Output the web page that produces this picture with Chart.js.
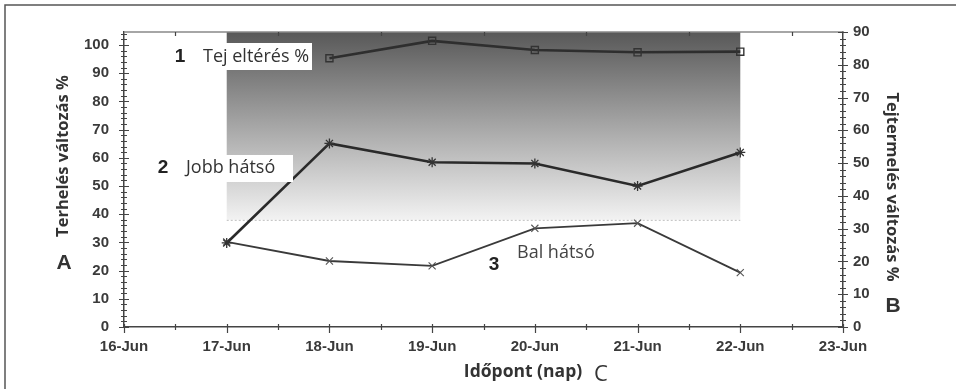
<!DOCTYPE html>
<html>
<head>
<meta charset="utf-8">
<script src="https://cdn.jsdelivr.net/npm/chart.js@4.4.0/dist/chart.umd.min.js"></script>
<style>
  body { margin: 0; background: #fff; }
  #wrap { position: relative; width: 956px; height: 389px; }
</style>
</head>
<body>
<div id="wrap"><canvas id="myChart"></canvas></div>
<script>
// tengely feliratok (napok)
var napok = ['16-Jun', '17-Jun', '18-Jun', '19-Jun', '20-Jun', '21-Jun', '22-Jun', '23-Jun'];

// 1 - Tej eltérés % (jobb tengely)
var tejNapok = ['18-Jun', '19-Jun', '20-Jun', '21-Jun', '22-Jun'];
var tejErtekek = [82.0, 87.3, 84.5, 83.8, 84.0];

// 2 - Jobb hátsó (bal tengely)
var jobbNapok = ['17-Jun', '18-Jun', '19-Jun', '20-Jun', '21-Jun', '22-Jun'];
var jobbErtekek = [29.8, 65.1, 58.4, 58.0, 50.0, 61.9];

// 3 - Bal hátsó (bal tengely)
var balNapok = ['17-Jun', '18-Jun', '19-Jun', '20-Jun', '21-Jun', '22-Jun'];
var balErtekek = [30.2, 23.4, 21.7, 35.0, 36.8, 19.3];

// háttér sáv
var savKezdet = '17-Jun';
var savVege = '22-Jun';
var savAlja = 38;

function pontok(nap, ertek) {
  var res = [];
  for (var i = 0; i < nap.length; i++) {
    res.push({ x: napok.indexOf(nap[i]), y: ertek[i] });
  }
  return res;
}

function lepesek(min, max, step) {
  var t = [];
  for (var v = min; v <= max + 1e-9; v += step) t.push({ value: Math.round(v * 100) / 100 });
  return t;
}

var tickFont = { family: 'Liberation Sans', size: 15, weight: 'bold' };

var diszito = {
  id: 'diszito',
  beforeDraw: function (chart) {
    var c = chart.ctx;
    c.save();
    c.fillStyle = '#fff';
    c.fillRect(0, 0, chart.width, chart.height);
    c.strokeStyle = '#555';
    c.lineWidth = 1.5;
    c.beginPath();
    c.moveTo(5, chart.height);
    c.lineTo(5, 5);
    c.lineTo(chart.width, 5);
    c.stroke();
    c.restore();
  },
  beforeDatasetsDraw: function (chart) {
    var c = chart.ctx, a = chart.chartArea;
    var x = chart.scales.x, yL = chart.scales.y, yR = chart.scales.y2;
    var x1 = x.getPixelForValue(napok.indexOf(savKezdet));
    var x2 = x.getPixelForValue(napok.indexOf(savVege));
    var yb = yL.getPixelForValue(savAlja);
    c.save();
    var g = c.createLinearGradient(0, a.top, 0, yb);
    g.addColorStop(0, '#585858');
    g.addColorStop(0.5, '#a6a6a6');
    g.addColorStop(1, '#f2f2f2');
    c.fillStyle = g;
    c.fillRect(x1, a.top, x2 - x1, yb - a.top);
    c.strokeStyle = '#bdbdbd';
    c.lineWidth = 1;
    c.setLineDash([2, 2]);
    c.beginPath();
    c.moveTo(x1, yb + 0.5);
    c.lineTo(x2, yb + 0.5);
    c.stroke();
    c.setLineDash([]);
    // felső keret
    c.strokeStyle = '#888';
    c.lineWidth = 1.5;
    c.beginPath();
    c.moveTo(a.left, a.top);
    c.lineTo(a.right, a.top);
    c.stroke();
    // tengely osztások (átlógó)
    c.strokeStyle = '#444';
    c.lineWidth = 1.2;
    c.beginPath();
    yL.ticks.forEach(function (t) {
      var p = Math.round(yL.getPixelForValue(t.value)) + 0.5;
      var h = t.value % 10 === 0 ? 5 : 3;
      c.moveTo(a.left - h, p); c.lineTo(a.left + h, p);
    });
    yR.ticks.forEach(function (t) {
      var p = Math.round(yR.getPixelForValue(t.value)) + 0.5;
      var h = t.value % 10 === 0 ? 5 : 3;
      c.moveTo(a.right - h, p); c.lineTo(a.right + h, p);
    });
    x.ticks.forEach(function (t) {
      var p = Math.round(x.getPixelForValue(t.value)) + 0.5;
      var major = t.value % 1 === 0;
      c.moveTo(p, a.bottom - 3); c.lineTo(p, a.bottom + (major ? 6 : 3));
      if (!major) { c.moveTo(p, a.top); c.lineTo(p, a.top + 4); }
    });
    c.stroke();
    c.restore();
  },
  afterDatasetsDraw: function (chart) {
    var c = chart.ctx;
    c.save();
    c.textBaseline = 'middle';
    function doboz(x, y, w, h) {
      c.fillStyle = '#fff';
      c.fillRect(x, y, w, h);
    }
    doboz(201, 43, 111, 27);
    doboz(182, 155, 111, 27);
    c.fillStyle = '#222';
    c.font = 'bold 19px "Liberation Sans"';
    c.textAlign = 'center';
    c.fillText('1', 180, 57);
    c.fillText('2', 163, 168);
    c.fillText('3', 494, 265);
    c.fillStyle = '#333';
    c.font = '18px "Open Sans"';
    c.textAlign = 'left';
    c.fillText('Tej eltérés %', 203, 57);
    c.fillText('Jobb hátsó', 186, 168);
    c.fillStyle = '#444';
    c.fillText('Bal hátsó', 517, 253);
    // tengelycímek
    c.fillStyle = '#333';
    c.font = 'bold 17.5px "Open Sans"';
    c.textAlign = 'center';
    c.fillText('Időpont (nap)', 523, 372);
    c.font = '22px "Open Sans"';
    c.fillText('C', 601, 375);
    c.save();
    c.translate(63, 156);
    c.rotate(-Math.PI / 2);
    c.font = 'bold 16.5px "Open Sans"';
    c.fillText('Terhelés változás %', 0, 0);
    c.restore();
    c.save();
    c.translate(892, 187);
    c.rotate(Math.PI / 2);
    c.font = 'bold 16.5px "Open Sans"';
    c.fillText('Tejtermelés változás %', 0, 0);
    c.restore();
    c.font = 'bold 21px "Liberation Sans"';
    c.fillText('A', 64, 263);
    c.fillText('B', 893, 306);
    c.restore();
  }
};

new Chart(document.getElementById('myChart'), {
  type: 'line',
  data: {
    datasets: [
      {
        label: 'Tej eltérés %',
        data: pontok(tejNapok, tejErtekek),
        yAxisID: 'y2',
        borderColor: '#2e2e2e',
        borderWidth: 2.6,
        pointStyle: 'rect',
        pointRadius: 5,
        pointBorderWidth: 1.4,
        pointBorderColor: '#333',
        pointBackgroundColor: 'rgba(0,0,0,0)'
      },
      {
        label: 'Jobb hátsó',
        data: pontok(jobbNapok, jobbErtekek),
        yAxisID: 'y',
        borderColor: '#2a2a2a',
        borderWidth: 2.6,
        pointStyle: 'star',
        pointRadius: 5,
        pointBorderWidth: 1.3,
        pointBorderColor: '#333'
      },
      {
        label: 'Bal hátsó',
        data: pontok(balNapok, balErtekek),
        yAxisID: 'y',
        borderColor: '#3a3a3a',
        borderWidth: 1.8,
        pointStyle: 'crossRot',
        pointRadius: 5,
        pointBorderWidth: 1.1,
        pointBorderColor: '#555'
      }
    ]
  },
  options: {
    responsive: true,
    maintainAspectRatio: false,
    animation: false,
    layout: { padding: { top: 32, left: 0, right: 0, bottom: 0 } },
    plugins: { legend: { display: false }, tooltip: { enabled: false } },
    scales: {
      x: {
        type: 'linear',
        min: 0,
        max: napok.length - 1,
        afterBuildTicks: function (s) { s.ticks = lepesek(0, napok.length - 1, 0.5); },
        afterFit: function (s) { s.height = 62; },
        grid: { display: true, drawOnChartArea: false, drawTicks: false },
        border: { color: '#444', width: 1.5 },
        ticks: {
          autoSkip: false,
          maxRotation: 0,
          padding: 11,
          color: '#3a3a3a',
          font: tickFont,
          callback: function (v) { return v % 1 === 0 ? napok[v] : ''; }
        }
      },
      y: {
        position: 'left',
        min: 0,
        max: 104.6,
        afterBuildTicks: function (s) { s.ticks = lepesek(0, 104, 2); },
        afterFit: function (s) { s.width = 124; },
        grid: { display: true, drawOnChartArea: false, drawTicks: false },
        border: { color: '#444', width: 1.5 },
        ticks: {
          autoSkip: false,
          padding: 15,
          color: '#3a3a3a',
          font: tickFont,
          callback: function (v) { return v % 10 === 0 ? v : ''; }
        }
      },
      y2: {
        position: 'right',
        min: 0,
        max: 90,
        afterBuildTicks: function (s) { s.ticks = lepesek(0, 90, 2); },
        afterFit: function (s) { s.width = 113; },
        grid: { display: true, drawOnChartArea: false, drawTicks: false },
        border: { color: '#444', width: 1.5 },
        ticks: {
          autoSkip: false,
          padding: 10,
          color: '#3a3a3a',
          font: tickFont,
          callback: function (v) { return v % 10 === 0 ? v : ''; }
        }
      }
    }
  },
  plugins: [diszito]
});
</script>
</body>
</html>
